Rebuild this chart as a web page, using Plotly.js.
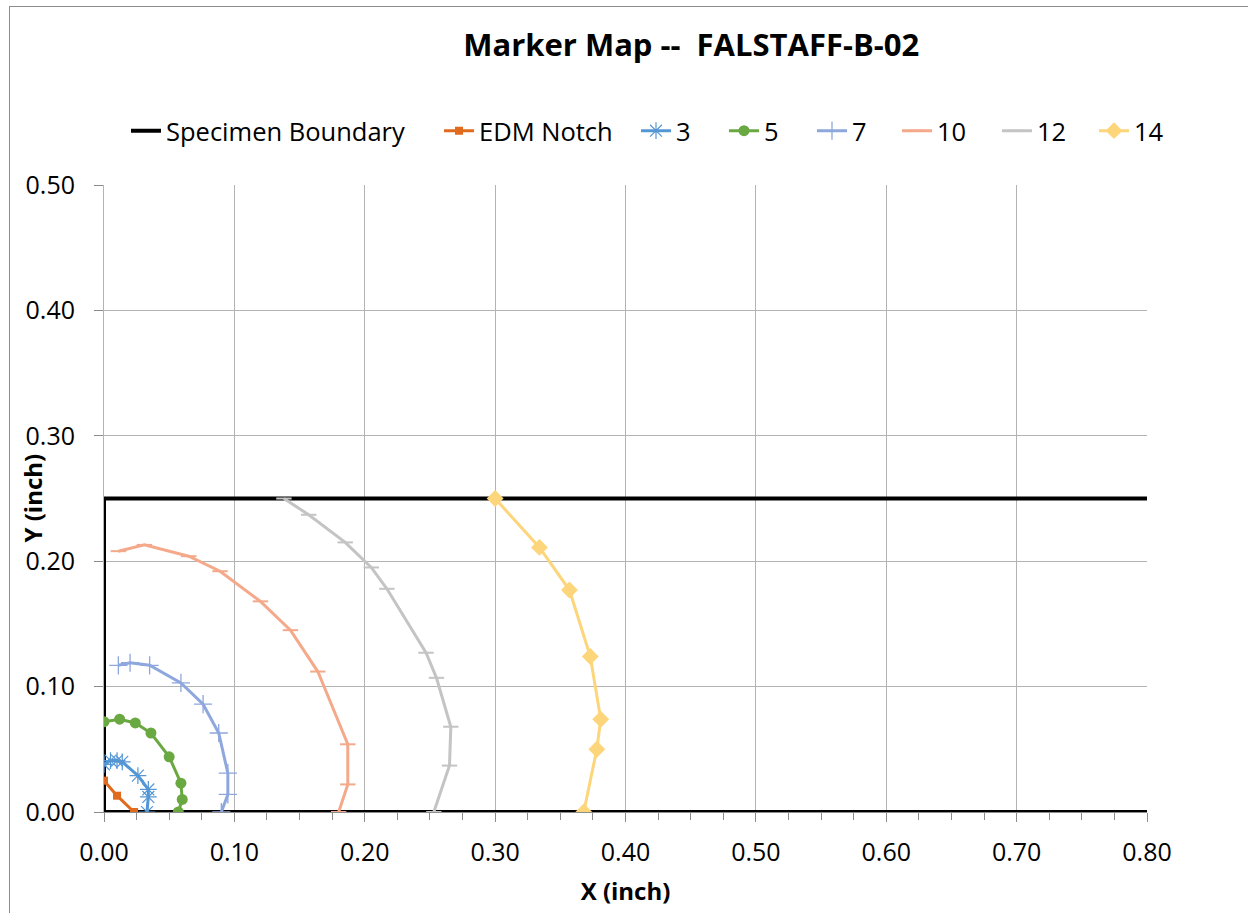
<!DOCTYPE html>
<html>
<head>
<meta charset="utf-8">
<script src="https://cdn.plot.ly/plotly-3.0.1.min.js"></script>
<style>
  html, body { margin: 0; padding: 0; background: #ffffff; overflow: hidden; }
  #chart { position: absolute; left: 0; top: 0; width: 1248px; height: 913px; }
  #frame { position: absolute; left: 9px; top: 6px; width: 1400px; height: 1100px;
           border: 1px solid #8c8c8c; pointer-events: none; }
</style>
</head>
<body>
<div id="chart"></div>
<div id="frame"></div>
<script>
// Specimen outline (inch)
const boundaryX = [0.80, 0.00, 0.00, 0.80];
const boundaryY = [0.25, 0.25, 0.00, 0.00];

// EDM notch
const notchX = [0.000, 0.010, 0.023];
const notchY = [0.025, 0.013, 0.000];

// Crack front markers by marker band
const m3X = [0.000, 0.005, 0.010, 0.014, 0.026, 0.034, 0.034, 0.033];
const m3Y = [0.038, 0.041, 0.041, 0.040, 0.029, 0.018, 0.012, 0.000];

const m5X = [0.000, 0.012, 0.024, 0.036, 0.050, 0.059, 0.060, 0.057];
const m5Y = [0.072, 0.074, 0.071, 0.063, 0.044, 0.023, 0.010, 0.000];

const m7X = [0.011, 0.020, 0.035, 0.059, 0.076, 0.088, 0.095, 0.095, 0.090];
const m7Y = [0.117, 0.119, 0.117, 0.103, 0.086, 0.063, 0.031, 0.014, 0.000];

const m10X = [0.011, 0.031, 0.065, 0.089, 0.120, 0.143, 0.164, 0.187, 0.187, 0.180];
const m10Y = [0.208, 0.213, 0.204, 0.192, 0.168, 0.145, 0.112, 0.054, 0.022, 0.000];

const m12X = [0.138, 0.157, 0.185, 0.205, 0.217, 0.247, 0.255, 0.266, 0.265, 0.253];
const m12Y = [0.250, 0.237, 0.215, 0.195, 0.178, 0.127, 0.107, 0.068, 0.037, 0.000];

const m14X = [0.300, 0.334, 0.357, 0.373, 0.381, 0.378, 0.368];
const m14Y = [0.250, 0.211, 0.177, 0.124, 0.074, 0.050, 0.000];

const seriesNames = ['Specimen Boundary', 'EDM Notch', '3', '5', '7', '10', '12', '14'];

const xTicks = [0, 0.1, 0.2, 0.3, 0.4, 0.5, 0.6, 0.7, 0.8];
const yTicks = [0, 0.1, 0.2, 0.3, 0.4, 0.5];

const FONT = "'Open Sans', 'Noto Sans', sans-serif";

// plot-area geometry (px)
const PLOT_L = 104, PLOT_W = 1043;
// left edge of each legend entry (px), laid out in one row above the plot
const legendLeft = [126, 439, 636, 724, 812, 897, 997, 1094];

function series(name, x, y, color, symbol, size, lineW) {
  return {
    type: 'scatter', mode: 'lines+markers', name: name, x: x, y: y,
    line: { color: color, width: 3 },
    marker: { color: color, symbol: symbol, size: size,
              line: { color: color, width: lineW } }
  };
}

const traces = [
  { type: 'scatter', mode: 'lines', name: seriesNames[0],
    x: boundaryX, y: boundaryY, line: { color: '#000000', width: 4 } },
  series(seriesNames[1], notchX, notchY, '#e06a1e', 'square', 8, 0),
  series(seriesNames[2], m3X, m3Y, '#5596d4', 'asterisk', 14, 1.2),
  series(seriesNames[3], m5X, m5Y, '#6aa842', 'circle', 11, 0),
  series(seriesNames[4], m7X, m7Y, '#8ea7dd', 'cross-thin', 13, 1.3),
  series(seriesNames[5], m10X, m10Y, '#f4a98a', 'line-ew', 11, 2),
  series(seriesNames[6], m12X, m12Y, '#c4c4c4', 'line-ew', 11, 2),
  series(seriesNames[7], m14X, m14Y, '#fdd57a', 'diamond', 13, 0)
];

const layout = {
  width: 1248, height: 913,
  margin: { l: 104, r: 101, t: 185, b: 101 },
  paper_bgcolor: '#ffffff', plot_bgcolor: '#ffffff',
  font: { family: FONT, size: 25, color: '#000000' },
  showlegend: true,
  title: {
    text: '<b>Marker Map --  FALSTAFF-B-02</b>',
    font: { family: FONT, size: 31, color: '#000000' },
    x: 0.563, xref: 'paper', xanchor: 'center',
    y: 0.951, yref: 'container', yanchor: 'middle'
  },
  xaxis: {
    range: [0, 0.8], tickvals: xTicks, tickformat: '.2f',
    showgrid: true, gridcolor: '#b3b3b3', gridwidth: 1,
    zeroline: false, showline: true, linecolor: '#8c8c8c', linewidth: 1,
    ticks: 'outside', ticklen: 9, tickcolor: '#8c8c8c', tickwidth: 1,
    ticklabelstandoff: 9,
    minor: { dtick: 0.025, tick0: 0, ticks: 'outside', ticklen: 7, tickcolor: '#8c8c8c', showgrid: false },
    tickfont: { family: FONT, size: 25 },
    title: { text: '<b>X (inch)</b>', font: { family: FONT, size: 24 }, standoff: 16 },
    fixedrange: true
  },
  yaxis: {
    range: [0, 0.5], tickvals: yTicks, tickformat: '.2f',
    showgrid: true, gridcolor: '#b3b3b3', gridwidth: 1,
    zeroline: false, showline: true, linecolor: '#b3b3b3', linewidth: 1,
    ticks: 'outside', ticklen: 9, tickcolor: '#8c8c8c', tickwidth: 1,
    ticklabelstandoff: 14,
    tickfont: { family: FONT, size: 25 },
    fixedrange: true
  },
  // Y-axis title sits inside the tick-label column, between 0.20 and 0.30
  annotations: [{
    text: '<b>Y (inch)</b>', textangle: -90, showarrow: false,
    xref: 'paper', yref: 'paper', x: (32 - PLOT_L) / PLOT_W, y: 0.5,
    xanchor: 'center', yanchor: 'middle',
    font: { family: FONT, size: 24, color: '#000000' }
  }]
};

// one legend per entry so the row keeps its wide spacing
traces.forEach(function (t, i) {
  const key = i === 0 ? 'legend' : 'legend' + (i + 1);
  t.legend = key;
  layout[key] = {
    orientation: 'h', xref: 'paper', yref: 'paper',
    x: (legendLeft[i] - PLOT_L) / PLOT_W, xanchor: 'left',
    y: 1.086, yanchor: 'middle',
    font: { family: FONT, size: 25.5, color: '#000000' },
    bgcolor: 'rgba(0,0,0,0)', borderwidth: 0
  };
});

Plotly.newPlot('chart', traces, layout, { displayModeBar: false, staticPlot: true });
</script>
</body>
</html>
